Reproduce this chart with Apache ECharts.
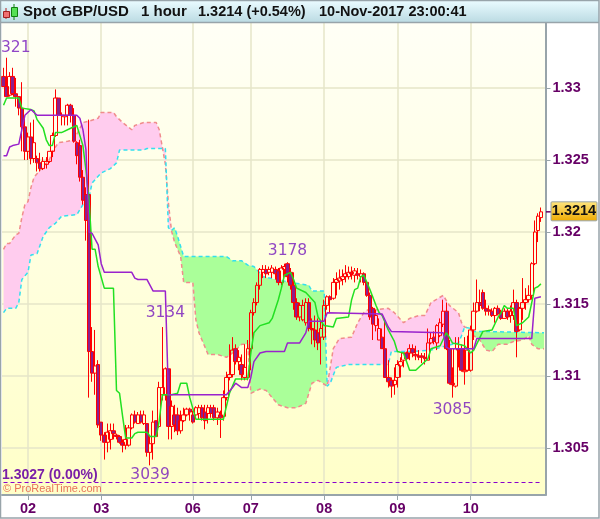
<!DOCTYPE html>
<html><head><meta charset="utf-8">
<style>html,body{margin:0;padding:0;background:#fff}#c{width:600px;height:519px}</style>
<script src="https://cdn.jsdelivr.net/npm/echarts@6/dist/echarts.min.js"></script>
</head><body><div id="c"></div>
<script>
// [open, close, low, high] per hour
var bars02a=[[1.3308,1.3301,1.3301,1.3314],[1.3301,1.3294,1.3294,1.3321],[1.3295,1.3308,1.3294,1.3311],[1.3308,1.3296,1.3295,1.3314],[1.3296,1.3294,1.3287,1.3307],[1.3294,1.3286,1.3281,1.3294],[1.3286,1.3273,1.3256,1.3304],[1.3273,1.3256,1.3250,1.3280]];
var bars02=[[1.3256,1.3266,1.3250,1.3269],[1.3266,1.3251,1.3247,1.3276],[1.3251,1.3262,1.3248,1.3278],[1.3251,1.3248,1.3242,1.3253],[1.3248,1.3244,1.3242,1.3255],[1.3244,1.3249,1.3243,1.3252],[1.3247,1.3249,1.3244,1.3252],[1.3249,1.3256,1.3248,1.3256],[1.3256,1.3267,1.3252,1.3269],[1.3267,1.3293,1.3266,1.3299],[1.3293,1.3281,1.3281,1.3293],[1.3281,1.3281,1.3274,1.3283],[1.3280,1.3281,1.3274,1.3281],[1.3281,1.3288,1.3274,1.3289],[1.3288,1.3281,1.3276,1.3289],[1.3281,1.3263,1.3262,1.3286],[1.3262,1.3253,1.3247,1.3263],[1.3260,1.3238,1.3235,1.3264],[1.3238,1.3222,1.3219,1.3243],[1.3226,1.3208,1.3194,1.3231],[1.3226,1.3117,1.3085,1.3278],[1.3117,1.3102,1.3096,1.3134],[1.3102,1.3107,1.3087,1.3132],[1.3108,1.3066,1.3064,1.3111]];
var bars03=[[1.3068,1.3059,1.3055,1.3068],[1.3059,1.3054,1.3042,1.3061],[1.3054,1.3061,1.3047,1.3067],[1.3056,1.3062,1.3049,1.3067],[1.3062,1.3060,1.3056,1.3067],[1.3059,1.3058,1.3056,1.3060],[1.3058,1.3054,1.3053,1.3059],[1.3054,1.3052,1.3047,1.3056],[1.3052,1.3056,1.3049,1.3066],[1.3052,1.3064,1.3051,1.3066],[1.3064,1.3073,1.3063,1.3074],[1.3073,1.3068,1.3067,1.3076],[1.3067,1.3073,1.3067,1.3075],[1.3073,1.3068,1.3067,1.3076],[1.3067,1.3073,1.3066,1.3076],[1.3067,1.3047,1.3044,1.3067],[1.3047,1.3053,1.3038,1.3059],[1.3053,1.3068,1.3042,1.3076],[1.3069,1.3058,1.3058,1.3069],[1.3065,1.3092,1.3064,1.3096],[1.3087,1.3092,1.3083,1.3134],[1.3087,1.3105,1.3083,1.3106],[1.3105,1.3065,1.3056,1.3105],[1.3065,1.3079,1.3056,1.3083],[1.3073,1.3066,1.3061,1.3080],[1.3073,1.3062,1.3059,1.3078],[1.3062,1.3069,1.3060,1.3076],[1.3069,1.3073,1.3068,1.3078],[1.3073,1.3077,1.3072,1.3078],[1.3077,1.3075,1.3069,1.3078]];
var bars06=[[1.3073,1.3068,1.3067,1.3076],[1.3073,1.3078,1.3072,1.3079],[1.3074,1.3078,1.3070,1.3080],[1.3078,1.3071,1.3069,1.3080],[1.3075,1.3069,1.3063,1.3080],[1.3074,1.3078,1.3067,1.3080],[1.3078,1.3074,1.3071,1.3080],[1.3078,1.3071,1.3069,1.3080],[1.3071,1.3075,1.3066,1.3078],[1.3073,1.3071,1.3057,1.3076],[1.3072,1.3085,1.3069,1.3090],[1.3085,1.3099,1.3083,1.3103],[1.3099,1.3101,1.3097,1.3122],[1.3101,1.3118,1.3099,1.3127],[1.3119,1.3110,1.3108,1.3122],[1.3110,1.3113,1.3104,1.3118],[1.3108,1.3101,1.3097,1.3115],[1.3099,1.3106,1.3097,1.3122],[1.3099,1.3119,1.3097,1.3125]];
var bars07=[[1.3119,1.3144,1.3104,1.3146],[1.3144,1.3151,1.3142,1.3154],[1.3151,1.3163,1.3149,1.3165],[1.3163,1.3174,1.3160,1.3175],[1.3172,1.3174,1.3168,1.3177],[1.3174,1.3171,1.3168,1.3177],[1.3172,1.3174,1.3170,1.3176],[1.3172,1.3175,1.3168,1.3177],[1.3174,1.3171,1.3167,1.3176],[1.3173,1.3165,1.3163,1.3175],[1.3165,1.3175,1.3163,1.3177],[1.3174,1.3176,1.3170,1.3178],[1.3178,1.3169,1.3165,1.3179],[1.3172,1.3163,1.3160,1.3175],[1.3163,1.3151,1.3146,1.3172],[1.3151,1.3141,1.3139,1.3154],[1.3141,1.3149,1.3138,1.3151],[1.3139,1.3149,1.3138,1.3153],[1.3137,1.3151,1.3135,1.3154],[1.3151,1.3133,1.3131,1.3154],[1.3133,1.3132,1.3122,1.3140],[1.3132,1.3125,1.3120,1.3142],[1.3130,1.3123,1.3118,1.3140],[1.3127,1.3133,1.3108,1.3139]];
var bars08=[[1.3127,1.3149,1.3125,1.3153],[1.3149,1.3155,1.3146,1.3156],[1.3155,1.3153,1.3144,1.3156],[1.3154,1.3165,1.3153,1.3168],[1.3165,1.3167,1.3156,1.3172],[1.3166,1.3168,1.3160,1.3174],[1.3167,1.3169,1.3163,1.3174],[1.3169,1.3171,1.3165,1.3177],[1.3169,1.3172,1.3167,1.3176],[1.3172,1.3171,1.3167,1.3176],[1.3170,1.3173,1.3165,1.3175],[1.3171,1.3170,1.3167,1.3175],[1.3169,1.3171,1.3165,1.3174],[1.3171,1.3165,1.3163,1.3172],[1.3165,1.3156,1.3155,1.3166],[1.3156,1.3141,1.3139,1.3158],[1.3147,1.3136,1.3125,1.3148],[1.3135,1.3142,1.3131,1.3146],[1.3125,1.3133,1.3125,1.3140],[1.3127,1.3119,1.3119,1.3133],[1.3119,1.3099,1.3099,1.3139],[1.3099,1.3096,1.3092,1.3111],[1.3097,1.3093,1.3085,1.3099],[1.3094,1.3097,1.3087,1.3106]];
var bars09=[[1.3099,1.3108,1.3092,1.3111],[1.3107,1.3110,1.3099,1.3113],[1.3111,1.3116,1.3106,1.3116],[1.3116,1.3112,1.3111,1.3117],[1.3116,1.3119,1.3111,1.3122],[1.3119,1.3116,1.3113,1.3122],[1.3115,1.3114,1.3111,1.3121],[1.3114,1.3113,1.3111,1.3118],[1.3114,1.3113,1.3109,1.3116],[1.3113,1.3112,1.3108,1.3116],[1.3111,1.3123,1.3111,1.3133],[1.3123,1.3126,1.3122,1.3130],[1.3127,1.3124,1.3122,1.3131],[1.3123,1.3135,1.3118,1.3136],[1.3128,1.3137,1.3127,1.3140],[1.3136,1.3145,1.3134,1.3153],[1.3145,1.3119,1.3118,1.3151],[1.3119,1.3095,1.3094,1.3125],[1.3095,1.3094,1.3085,1.3106],[1.3093,1.3119,1.3092,1.3127],[1.3119,1.3118,1.3106,1.3127],[1.3119,1.3104,1.3103,1.3122],[1.3103,1.3104,1.3094,1.3127],[1.3104,1.3118,1.3103,1.3128]];
var bars10=[[1.3104,1.3132,1.3103,1.3135],[1.3132,1.3145,1.3125,1.3151],[1.3145,1.3151,1.3144,1.3167],[1.3151,1.3149,1.3145,1.3160],[1.3158,1.3147,1.3146,1.3160],[1.3147,1.3145,1.3142,1.3153],[1.3146,1.3145,1.3142,1.3149],[1.3145,1.3142,1.3141,1.3147],[1.3142,1.3147,1.3137,1.3148],[1.3147,1.3143,1.3142,1.3149],[1.3144,1.3140,1.3139,1.3146],[1.3140,1.3145,1.3140,1.3147],[1.3145,1.3141,1.3139,1.3147],[1.3142,1.3145,1.3137,1.3149],[1.3142,1.3151,1.3139,1.3160],[1.3151,1.3131,1.3113,1.3153],[1.3132,1.3147,1.3131,1.3148],[1.3147,1.3151,1.3139,1.3168],[1.3151,1.3153,1.3146,1.3161],[1.3153,1.3156,1.3151,1.3163],[1.3156,1.3178,1.3153,1.3179],[1.3178,1.3200,1.3177,1.3208],[1.3201,1.3211,1.3193,1.3213],[1.3210,1.3214,1.3207,1.3217]];
// short moving line and long moving line: [bar, price] at each bend
var greenLine=[[0,1.3288],[1,1.3293],[5,1.3293],[6,1.3286],[9,1.3285],[10,1.3284],[11,1.3278],[13,1.3272],[14,1.3264],[15,1.3260],[16,1.3260],[17,1.3269],[19,1.3269],[22,1.3272],[24,1.3274],[26,1.3260],[27,1.3243],[28,1.3222],[29,1.3188],[30,1.3188],[31,1.3176],[33,1.3161],[36,1.3161],[37,1.3090],[38,1.3088],[39,1.3072],[40,1.3057],[42,1.3057],[43,1.3060],[44,1.3061],[47,1.3061],[48,1.3058],[50,1.3058],[51,1.3069],[52,1.3087],[55,1.3087],[57,1.3088],[58,1.3095],[60,1.3095],[61,1.3085],[63,1.3070],[72,1.3070],[74,1.3088],[76,1.3098],[80,1.3098],[81,1.3116],[82,1.3130],[84,1.3135],[87,1.3137],[88,1.3140],[90,1.3153],[91,1.3161],[92,1.3170],[94,1.3172],[95,1.3167],[96,1.3161],[99,1.3158],[102,1.3151],[103,1.3141],[105,1.3135],[108,1.3134],[109,1.3140],[113,1.3141],[114,1.3153],[115,1.3160],[116,1.3161],[117,1.3169],[118,1.3170],[120,1.3160],[122,1.3149],[123,1.3144],[124,1.3142],[126,1.3132],[128,1.3124],[129,1.3117],[131,1.3116],[133,1.3104],[135,1.3104],[139,1.3112],[140,1.3119],[143,1.3121],[145,1.3130],[146,1.3127],[147,1.3123],[149,1.3122],[151,1.3121],[153,1.3116],[154,1.3118],[157,1.3131],[160,1.3132],[162,1.3141],[163,1.3144],[164,1.3149],[165,1.3147],[167,1.3147],[168,1.3135],[170,1.3137],[172,1.3141],[174,1.3161],[175,1.3162],[176,1.3164]];
var purpleLine=[[0,1.3253],[1,1.3253],[2,1.3259],[3,1.3260],[5,1.3261],[6,1.3271],[7,1.3281],[9,1.3285],[10,1.3283],[11,1.3281],[24,1.3281],[25,1.3279],[26,1.3271],[27,1.3257],[28,1.3200],[29,1.3199],[31,1.3191],[32,1.3178],[33,1.3172],[42,1.3172],[43,1.3168],[44,1.3167],[47,1.3167],[49,1.3159],[53,1.3159],[54,1.3087],[73,1.3087],[75,1.3092],[76,1.3095],[78,1.3092],[80,1.3092],[81,1.3099],[82,1.3110],[84,1.3116],[86,1.3117],[92,1.3117],[93,1.3123],[97,1.3123],[99,1.3130],[100,1.3138],[105,1.3138],[106,1.3144],[124,1.3143],[126,1.3134],[127,1.3131],[144,1.3130],[145,1.3120],[146,1.3119],[154,1.3119],[155,1.3126],[173,1.3126],[174,1.3154],[176,1.3155]];
// cloud edges: [bar, price]
var spanA=[[0,1.3188],[1,1.3192],[2,1.3192],[4,1.3198],[5,1.3199],[6,1.3210],[7,1.3219],[8,1.3221],[9,1.3231],[10,1.3238],[12,1.3243],[15,1.3250],[16,1.3256],[18,1.3262],[21,1.3263],[23,1.3264],[25,1.3272],[26,1.3276],[28,1.3277],[31,1.3279],[32,1.3283],[36,1.3283],[37,1.3280],[39,1.3276],[42,1.3271],[43,1.3274],[46,1.3276],[50,1.3276],[51,1.3271],[52,1.3259],[53,1.3247],[54,1.3220],[55,1.3201],[56,1.3193],[58,1.3183],[59,1.3165],[62,1.3165],[63,1.3139],[64,1.3130],[65,1.3125],[67,1.3115],[70,1.3115],[73,1.3113],[75,1.3116],[78,1.3122],[80,1.3122],[81,1.3088],[84,1.3091],[86,1.3090],[90,1.3080],[93,1.3078],[96,1.3078],[99,1.3081],[101,1.3095],[103,1.3097],[106,1.3093],[108,1.3119],[110,1.3126],[114,1.3127],[116,1.3137],[118,1.3144],[120,1.3147],[122,1.3146],[126,1.3147],[128,1.3144],[131,1.3137],[133,1.3140],[136,1.3142],[138,1.3142],[140,1.3151],[144,1.3156],[146,1.3149],[149,1.3144],[150,1.3137],[151,1.3134],[153,1.3133],[154,1.3128],[156,1.3125],[158,1.3118],[160,1.3117],[162,1.3122],[165,1.3122],[167,1.3124],[170,1.3125],[172,1.3128],[173,1.3122],[175,1.3119],[177,1.3119]];
var spanB=[[0,1.3144],[1,1.3147],[4,1.3147],[5,1.3151],[6,1.3167],[8,1.3172],[9,1.3184],[11,1.3185],[13,1.3197],[15,1.3203],[17,1.3206],[19,1.3211],[24,1.3212],[26,1.3219],[28,1.3224],[29,1.3234],[32,1.3241],[35,1.3244],[37,1.3248],[38,1.3257],[46,1.3257],[47,1.3258],[53,1.3258],[54,1.3203],[55,1.3201],[56,1.3203],[57,1.3197],[59,1.3183],[73,1.3183],[75,1.3180],[78,1.3180],[80,1.3177],[82,1.3176],[85,1.3169],[94,1.3165],[100,1.3163],[101,1.3159],[105,1.3159],[106,1.3093],[107,1.3095],[109,1.3106],[113,1.3108],[118,1.3108],[126,1.3108],[127,1.3117],[133,1.3117],[140,1.3118],[145,1.3121],[149,1.3123],[150,1.3128],[151,1.3134],[153,1.3133],[154,1.3131],[156,1.3131],[177,1.3130]];
var cloudTwists=[0,55,106,153,177];
var dayLabels=['02','03','06','07','08','09','10'];
var dayBars=[8,32,62,81,105,129,153];
var priceTicks=[1.305,1.31,1.315,1.32,1.325,1.33];
var noteTexts=['321','3178','3134','3039','3085'];
var noteBars=[4,93,53,48,147];
var notePrices=[1.33278,1.3187,1.3144,1.30312,1.30764];
var lastPrice=1.3214;
var baseLine=1.3026;

var candles=[].concat(bars02a,bars02,bars03,bars06,bars07,bars08,bars09,bars10);
var N=178;
var categories=[];
for(var i=0;i<N;i++){var d=dayBars.indexOf(i);categories.push(d>=0?dayLabels[d]:String(i));}
function isDay(i){return dayBars.indexOf(i)>=0;}
var axisGray='#98a4aa', gridCol='#e6e6c8';
var PINK='#ffccee', GREEN='#aaff99';
var regions=[];
for(var r=0;r<cloudTwists.length-1;r++){regions.push([cloudTwists[r],cloudTwists[r+1],r%2]);}

var chart=echarts.init(document.getElementById('c'),null,{renderer:'canvas'});
function lineSeries(name,data,color,z){return {name:name,type:'line',data:data,symbol:'none',z:z,silent:true,lineStyle:{color:color,width:1.5},itemStyle:{color:color}};}
function edgeSeries(name,data,color){return {name:name,type:'line',data:data,symbol:'none',z:3,silent:true,lineStyle:{color:color,width:1.5,type:[4,3]},itemStyle:{color:color}};}
chart.setOption({
 animation:false,
 backgroundColor:'#fff',
 grid:{left:2,top:23,width:543.5,height:472,show:true,borderWidth:0,
   backgroundColor:new echarts.graphic.LinearGradient(0,0,0,1,[{offset:0,color:'#fffff6'},{offset:1,color:'#ffffc8'}])},
 xAxis:{type:'category',data:categories,boundaryGap:true,
   axisLine:{lineStyle:{color:axisGray,width:2}},
   axisTick:{show:true,length:5,alignWithLabel:true,interval:function(i){return isDay(i);},lineStyle:{color:axisGray}},
   axisLabel:{interval:function(i){return isDay(i);},hideOverlap:false,margin:6,color:'#660066',fontFamily:'Liberation Sans',fontWeight:'bold',fontSize:14.5},
   splitLine:{show:true,alignWithLabel:true,interval:function(i){return isDay(i);},lineStyle:{color:gridCol,width:1.5}}},
 yAxis:{type:'value',position:'right',min:1.30174,max:1.33451,scale:true,
   axisLine:{show:true,lineStyle:{color:axisGray,width:2}},
   axisTick:{show:true,length:5,customValues:priceTicks,lineStyle:{color:axisGray}},
   axisLabel:{customValues:priceTicks,margin:7,color:'#660066',fontFamily:'Liberation Sans',fontWeight:'bold',fontSize:14.5,
     formatter:function(v){return String(+v.toFixed(4));}},
   splitLine:{show:true,lineStyle:{color:gridCol,width:1.5}}},
 series:[
  {name:'cloud',type:'custom',data:regions,z:2,silent:true,clip:true,encode:{x:0,y:[]},
   renderItem:function(p,api){
     var i1=api.value(0),i2=api.value(1),kind=api.value(2),pts=[];
     spanA.forEach(function(v){if(v[0]>=i1&&v[0]<=i2)pts.push(api.coord(v));});
     spanB.slice().reverse().forEach(function(v){if(v[0]>=i1&&v[0]<=i2)pts.push(api.coord(v));});
     return {type:'polygon',shape:{points:pts},style:{fill:kind===0?PINK:GREEN}};
   }},
  edgeSeries('spanA',spanA,'#f08c8c'),
  edgeSeries('spanB',spanB,'#33e0ee'),
  {name:'GBP/USD',type:'candlestick',data:candles,barWidth:4,z:4,silent:true,
   itemStyle:{color:'transparent',color0:'#8c1f8c',borderColor:'#ff0000',borderColor0:'#ff0000',borderWidth:1}},
  lineSeries('green',greenLine,'#22e022',5),
  lineSeries('purple',purpleLine,'#9a22cc',5),
  {name:'notes',type:'scatter',z:6,silent:true,symbolSize:1,itemStyle:{color:'transparent'},
   data:noteTexts.map(function(t,k){return {name:t,value:[noteBars[k],notePrices[k]]};}),
   label:{show:true,position:'inside',formatter:'{b}',color:'#7418bc',fontFamily:'DejaVu Sans',fontSize:15.5}},
  {name:'base',type:'line',data:[],z:6,silent:true,
   markLine:{silent:true,symbol:'none',label:{show:false},lineStyle:{color:'#8800cc',width:1.2,type:[4,3]},
     data:[[{coord:[0,baseLine]},{coord:[176,baseLine]}]]}}
 ],
 graphic:[
  {type:'rect',z:-1,shape:{x:1,y:1,width:598,height:21},style:{fill:new echarts.graphic.LinearGradient(0,0,0,1,[{offset:0,color:'#e9fbff'},{offset:1,color:'#bcdbe3'}])},silent:true},
  {type:'rect',shape:{x:.5,y:.5,width:598.5,height:517.5},style:{fill:'none',stroke:axisGray,lineWidth:1.5},silent:true,z:20},
  {type:'line',shape:{x1:1,y1:22.5,x2:599,y2:22.5},style:{stroke:axisGray,lineWidth:1.5},silent:true,z:20},
  // header icon
  {type:'line',shape:{x1:6,y1:8,x2:6,y2:19},style:{stroke:'#b02020'},z:20},
  {type:'rect',shape:{x:3.5,y:11.5,width:6,height:6},style:{fill:'#f07070',stroke:'#a02020'},z:21},
  {type:'line',shape:{x1:14,y1:4,x2:14,y2:20},style:{stroke:'#108010'},z:20},
  {type:'rect',shape:{x:11.5,y:7.5,width:6,height:9},style:{fill:'#55e055',stroke:'#108010'},z:21},
  {type:'text',x:23,y:12,z:21,style:{text:'Spot GBP/USD',fill:'#111',font:'bold 15px "Liberation Sans"',textVerticalAlign:'middle'}},
  {type:'text',x:141,y:12,z:21,style:{text:'1 hour',fill:'#111',font:'bold 15px "Liberation Sans"',textVerticalAlign:'middle'}},
  {type:'text',x:198,y:12,z:21,style:{text:'1.3214 (+0.54%)',fill:'#111',font:'bold 14.5px "Liberation Sans"',textVerticalAlign:'middle'}},
  {type:'text',x:319,y:12,z:21,style:{text:'10-Nov-2017 23:00:41',fill:'#111',font:'bold 14.5px "Liberation Sans"',textVerticalAlign:'middle'}},
  {type:'text',x:2,y:475,z:21,style:{text:'1.3027 (0.00%)',fill:'#7a1fa8',font:'bold 14px "Liberation Sans"',textVerticalAlign:'middle'}},
  {type:'text',x:3,y:489,z:21,style:{text:'\u00a9 ProRealTime.com',fill:'#e8735a',font:'11px "Liberation Sans"',textVerticalAlign:'middle'}}
 ]
});
var py=chart.convertToPixel({yAxisIndex:0},lastPrice);
chart.setOption({graphic:[
  {type:'line',id:'lastTick',shape:{x1:546,y1:py,x2:551,y2:py},style:{stroke:'#660066',lineWidth:1.5},z:21},
  {type:'rect',id:'lastBox',shape:{x:551,y:py-10,width:46,height:19,r:1},style:{stroke:'#98a4aa',lineWidth:1,fill:new echarts.graphic.LinearGradient(0,0,0,1,[{offset:0,color:'#ffe680'},{offset:1,color:'#eeaa00'}])},z:21},
  {type:'text',id:'lastText',x:574,y:py-.5,z:22,style:{text:'1.3214',fill:'#111',font:'bold 14.5px "Liberation Sans"',textAlign:'center',textVerticalAlign:'middle'}}
]});
</script></body></html>
